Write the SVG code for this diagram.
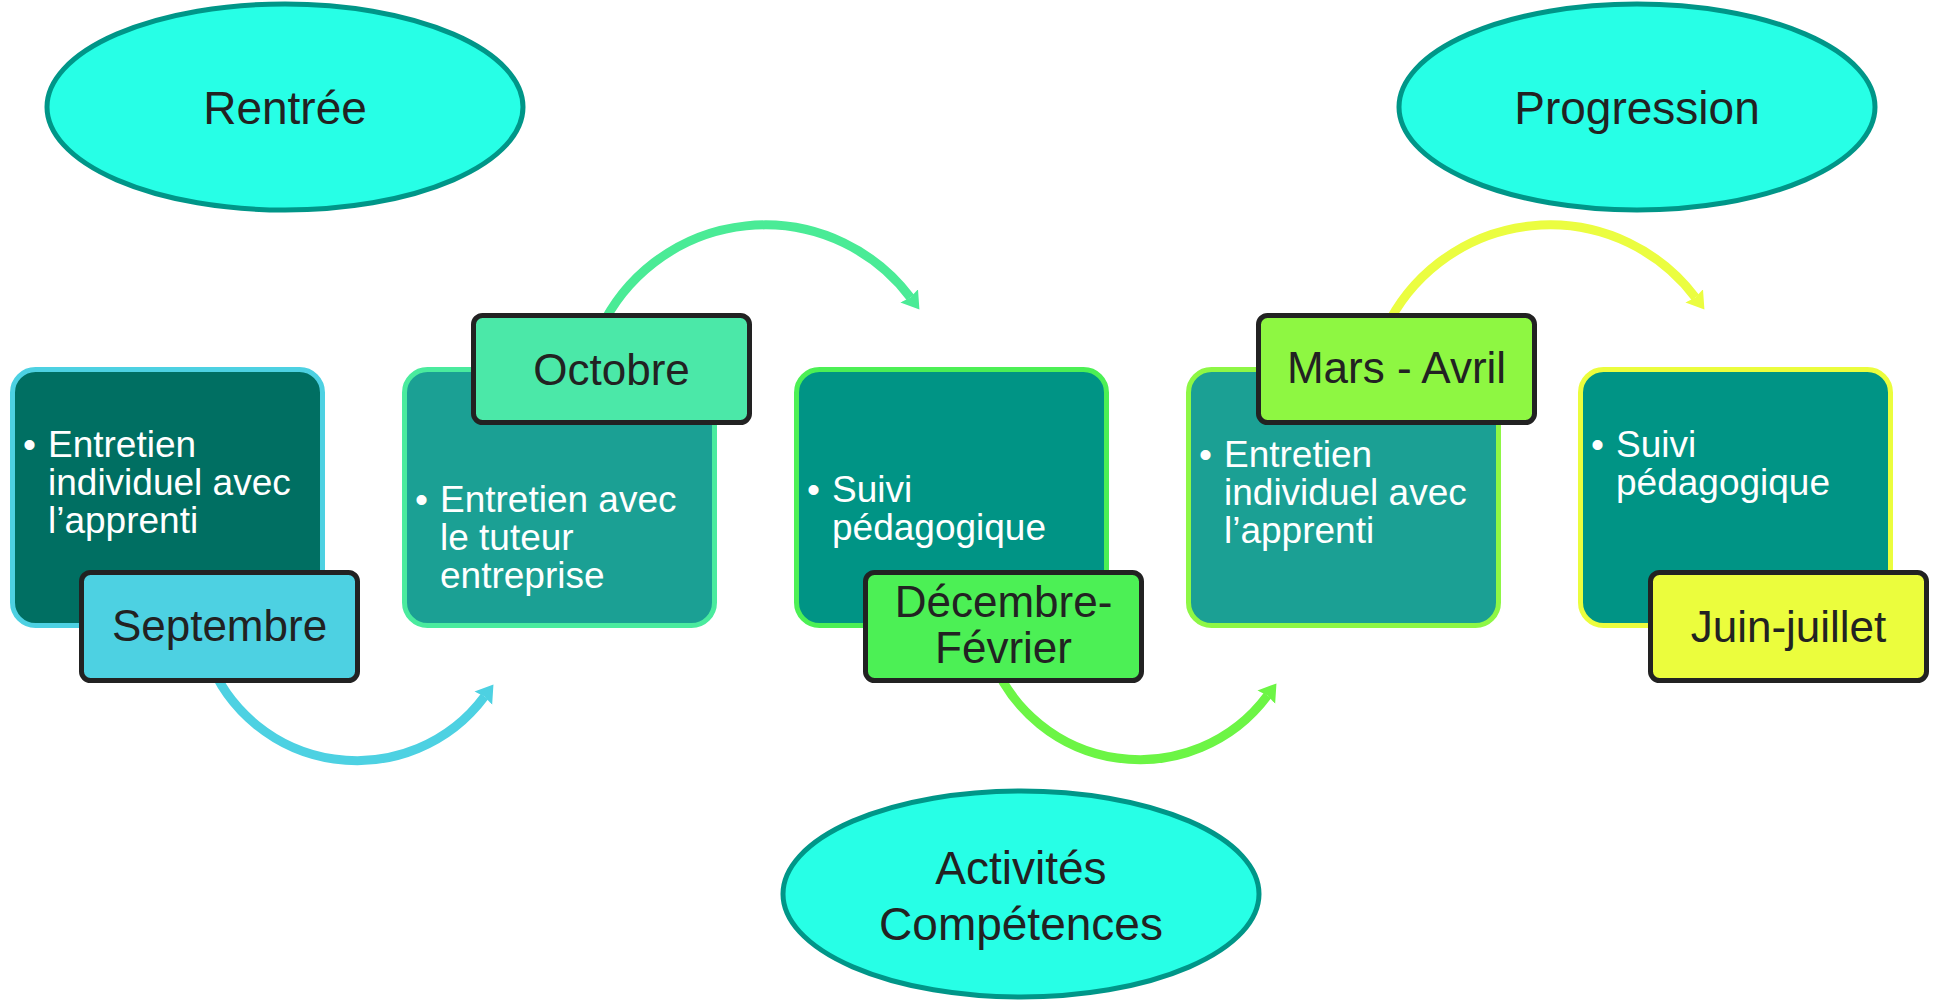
<svg xmlns="http://www.w3.org/2000/svg" width="1934" height="1001" viewBox="0 0 1934 1001">
<style>
.bg{fill:#ffffff}
.ell{fill:#27FFE6;stroke:#009688;stroke-width:5}
.etxt{font-family:"Liberation Sans",Arial,sans-serif;font-size:46px;fill:#222222;text-anchor:middle}
.box{stroke-width:5}
.lab{stroke:#222222;stroke-width:5}
.btxt{font-family:"Liberation Sans",Arial,sans-serif;font-size:37px;fill:#ffffff}
.ltxt{font-family:"Liberation Sans",Arial,sans-serif;font-size:44px;fill:#222222;text-anchor:middle}
.arc{fill:none;stroke-width:9}
</style>
<defs>
<marker id="mCyan" markerUnits="userSpaceOnUse" viewBox="0 -12 20 24" markerWidth="20" markerHeight="24" refX="2" refY="0" orient="auto"><path d="M0,-11 L17,0 L0,11 L2,0 z" fill="#4DD1E2"/></marker>
<marker id="mMint" markerUnits="userSpaceOnUse" viewBox="0 -12 20 24" markerWidth="20" markerHeight="24" refX="2" refY="0" orient="auto"><path d="M0,-11 L17,0 L0,11 L2,0 z" fill="#4AEB96"/></marker>
<marker id="mGreen" markerUnits="userSpaceOnUse" viewBox="0 -12 20 24" markerWidth="20" markerHeight="24" refX="2" refY="0" orient="auto"><path d="M0,-11 L17,0 L0,11 L2,0 z" fill="#6CF545"/></marker>
<marker id="mYellow" markerUnits="userSpaceOnUse" viewBox="0 -12 20 24" markerWidth="20" markerHeight="24" refX="2" refY="0" orient="auto"><path d="M0,-11 L17,0 L0,11 L2,0 z" fill="#EBFD40"/></marker>
</defs>
<rect class="bg" x="0" y="0" width="1934" height="1001"/>

<g id="connectors">
<path class="arc" stroke="#4DD1E2" marker-end="url(#mCyan)" d="M207.6,656.4 A159,159 0 0 0 484.5,696.5"/>
<path class="arc" stroke="#4AEB96" marker-end="url(#mMint)" d="M600,330 A182,182 0 0 1 910.4,297.5"/>
<path class="arc" stroke="#6CF545" marker-end="url(#mGreen)" d="M990.6,655.4 A159,159 0 0 0 1267.5,695.5"/>
<path class="arc" stroke="#EBFD40" marker-end="url(#mYellow)" d="M1385,330 A182,182 0 0 1 1695.4,297.5"/>
</g>

<g id="ellipse-rentree">
<ellipse class="ell" cx="285" cy="107" rx="238" ry="103"/>
<text class="etxt" x="285" y="124">Rentrée</text>
</g>
<g id="ellipse-progression">
<ellipse class="ell" cx="1637" cy="107" rx="238" ry="103"/>
<text class="etxt" x="1637" y="124">Progression</text>
</g>
<g id="ellipse-activites">
<ellipse class="ell" cx="1021" cy="894" rx="238" ry="103"/>
<text class="etxt" x="1021" y="884">Activités</text>
<text class="etxt" x="1021" y="940">Compétences</text>
</g>

<g id="node-septembre">
<rect class="box" x="12.5" y="369.5" width="310" height="256" rx="23" fill="#006F62" stroke="#4DD1E2"/>
<text class="btxt" x="23" y="457">•</text>
<text class="btxt"><tspan x="48" y="457">Entretien</tspan><tspan x="48" y="495">individuel avec</tspan><tspan x="48" y="533">l’apprenti</tspan></text>
<rect class="lab" x="81.5" y="572.5" width="276" height="108" rx="9" fill="#4DD1E2"/>
<text class="ltxt" x="219.5" y="641">Septembre</text>
</g>

<g id="node-octobre">
<rect class="box" x="404.5" y="369.5" width="310" height="256" rx="23" fill="#1BA094" stroke="#4AEB9E"/>
<text class="btxt" x="415" y="512">•</text>
<text class="btxt"><tspan x="440" y="512">Entretien avec</tspan><tspan x="440" y="550">le tuteur</tspan><tspan x="440" y="588">entreprise</tspan></text>
<rect class="lab" x="473.5" y="315.5" width="276" height="107" rx="9" fill="#4BE8A8"/>
<text class="ltxt" x="611.5" y="385">Octobre</text>
</g>

<g id="node-decembre">
<rect class="box" x="796.5" y="369.5" width="310" height="256" rx="23" fill="#009485" stroke="#4CF055"/>
<text class="btxt" x="807" y="502">•</text>
<text class="btxt"><tspan x="832" y="502">Suivi</tspan><tspan x="832" y="540">pédagogique</tspan></text>
<rect class="lab" x="865.5" y="572.5" width="276" height="108" rx="9" fill="#4CF055"/>
<text class="ltxt" x="1003.5" y="617">Décembre-</text>
<text class="ltxt" x="1003.5" y="663">Février</text>
</g>

<g id="node-mars">
<rect class="box" x="1188.5" y="369.5" width="310" height="256" rx="23" fill="#1BA094" stroke="#8EF745"/>
<text class="btxt" x="1199" y="467">•</text>
<text class="btxt"><tspan x="1224" y="467">Entretien</tspan><tspan x="1224" y="505">individuel avec</tspan><tspan x="1224" y="543">l’apprenti</tspan></text>
<rect class="lab" x="1258.5" y="315.5" width="276" height="107" rx="9" fill="#8EF742"/>
<text class="ltxt" x="1396.5" y="383">Mars - Avril</text>
</g>

<g id="node-juin">
<rect class="box" x="1580.5" y="369.5" width="310" height="256" rx="23" fill="#009485" stroke="#EBFD3D"/>
<text class="btxt" x="1591" y="457">•</text>
<text class="btxt"><tspan x="1616" y="457">Suivi</tspan><tspan x="1616" y="495">pédagogique</tspan></text>
<rect class="lab" x="1650.5" y="572.5" width="276" height="108" rx="9" fill="#EBFD3D"/>
<text class="ltxt" x="1788.5" y="642">Juin-juillet</text>
</g>
</svg>
